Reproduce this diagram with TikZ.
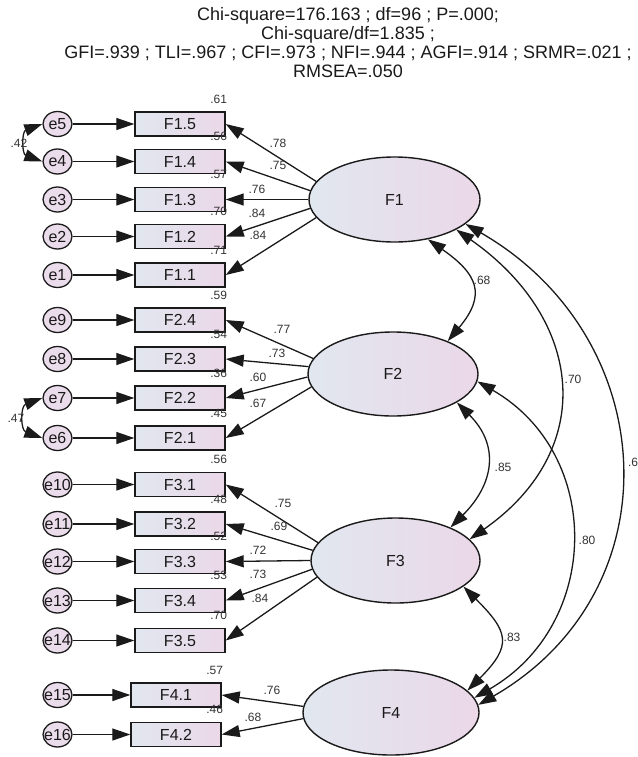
\documentclass[tikz,border=0pt]{standalone}
\usepackage{fontspec}
\setmainfont{Liberation Sans}
\usetikzlibrary{shapes.geometric,arrows.meta}
\definecolor{boxL}{HTML}{E1E7EF}
\definecolor{boxR}{HTML}{EBD8E8}
\definecolor{errF}{HTML}{EBDCEB}
\definecolor{ink}{HTML}{1A1A1A}
\definecolor{txt}{HTML}{333333}
\begin{document}
\begin{tikzpicture}[x=1pt,y=1pt,
  obs/.style={draw=ink, line width=1.4pt, left color=boxL, right color=boxR, minimum width=90pt, minimum height=24pt, inner sep=0pt, text=black!90, font=\fontsize{16}{16}\selectfont},
  lat/.style={ellipse, draw=ink, line width=1.4pt, left color=boxL, right color=boxR, inner sep=0pt, text=black!90, font=\fontsize{16}{16}\selectfont},
  err/.style={ellipse, draw=ink, line width=1.3pt, fill=errF, minimum width=29pt, minimum height=25pt, inner sep=-4pt, text=black!90, font=\fontsize{16}{16}\selectfont},
  num/.style={font=\fontsize{12}{12}\selectfont, text=txt, inner sep=0pt},
  arr/.style={draw=ink, line width=1.3pt, -{Triangle[length=18pt,width=12pt]}},
  dbl/.style={draw=ink, line width=1.3pt, {Triangle[length=18pt,width=12pt]}-{Triangle[length=18pt,width=12pt]}},
]
\useasboundingbox (0,0) rectangle (637,-757);

% title
\node[align=center, text=black!90, font=\fontsize{18}{19}\selectfont] (title) at (348,-43)
 {Chi-square=176.163 ; df=96 ; P=.000;\\
  Chi-square/df=1.835 ;\\
  GFI=.939 ; TLI=.967 ; CFI=.973 ; NFI=.944 ; AGFI=.914 ; SRMR=.021 ;\\
  RMSEA=.050};

% latent factors
\node[lat, minimum width=171pt, minimum height=85pt] (F1) at (394.5,-199.5) {F1};
\node[lat, minimum width=170pt, minimum height=84pt] (F2) at (393,-374) {F2};
\node[lat, minimum width=169pt, minimum height=85pt] (F3) at (395.5,-560.5) {F3};
\node[lat, minimum width=176pt, minimum height=85pt] (F4) at (391,-712.5) {F4};

% observed + errors
\foreach \n/\lab/\y in {15/F1.5/124, 14/F1.4/161.5, 13/F1.3/199.5, 12/F1.2/236.5, 11/F1.1/275,
                        24/F2.4/320, 23/F2.3/359, 22/F2.2/398, 21/F2.1/438,
                        31/F3.1/484.5, 32/F3.2/524, 33/F3.3/561.5, 34/F3.4/600.5, 35/F3.5/640.5}
  \node[obs] (b\n) at (180,-\y) {\lab};
\node[obs] (b41) at (176,-695) {F4.1};
\node[obs] (b42) at (176,-734.5) {F4.2};

\foreach \e/\b in {5/15, 4/14, 3/13, 2/12, 1/11, 9/24, 8/23, 7/22, 6/21, 10/31, 11/32, 12/33, 13/34, 14/35, 15/41, 16/42}
  {\node[err] (e\e) at (57.5,0 |- b\b) {e\e};
   \draw[arr] (e\e) -- (b\b);}

% squared multiple correlations
\foreach \b/\v in {15/.61, 14/.56, 13/.57, 12/.70, 11/.71, 24/.59, 23/.54, 22/.36, 21/.45,
                   31/.56, 32/.48, 33/.52, 34/.53, 35/.70, 41/.57, 42/.46}
  \node[num] at ([xshift=-7pt,yshift=12pt]b\b.north east) {\v};

% loadings
\draw[arr] (F1.167) -- (b15.east);
\draw[arr] (F1.174) -- (b14.east);
\draw[arr] (F1.180) -- (b13.east);
\draw[arr] (F1.186) -- (b12.east);
\draw[arr] (F1.193) -- (b11.east);
\draw[arr] (F2.169) -- (b24.east);
\draw[arr] (F2.175) -- (b23.east);
\draw[arr] (F2.182) -- (b22.east);
\draw[arr] (F2.189) -- (b21.east);
\draw[arr] (F3.167) -- (b31.east);
\draw[arr] (F3.173) -- (b32.east);
\draw[arr] (F3.180) -- (b33.east);
\draw[arr] (F3.186) -- (b34.east);
\draw[arr] (F3.192) -- (b35.east);
\draw[arr] (F4.176) -- (b41.east);
\draw[arr] (F4.184) -- (b42.east);

\node[num] at (278,-143) {.78};
\node[num] at (278,-165) {.75};
\node[num] at (257,-189) {.76};
\node[num] at (257,-213) {.84};
\node[num] at (258,-235) {.84};
\node[num] at (282,-329) {.77};
\node[num] at (277,-353) {.73};
\node[num] at (258,-377) {.60};
\node[num] at (258,-403) {.67};
\node[num] at (283,-503) {.75};
\node[num] at (279,-526) {.69};
\node[num] at (258,-550) {.72};
\node[num] at (258,-574) {.73};
\node[num] at (260,-598) {.84};
\node[num] at (272,-690) {.76};
\node[num] at (253,-717) {.68};

% error covariances
\draw[dbl] (e5.west) to[out=200,in=160,looseness=1.5] (e4.west);
\node[num] at (19,-143) {.42};
\draw[dbl] (e7.west) to[out=200,in=160,looseness=1.5] (e6.west);
\node[num] at (16,-418) {.47};

% factor covariances
\draw[dbl] (F1.-50) to[out=-35,in=50,looseness=1.5] (F2.31);
\node[num] at (482,-280) {.68};
\draw[dbl] (F2.-24) to[out=-45,in=45,looseness=1.25] (F3.31);
\node[num] at (503,-467) {.85};
\draw[dbl] (F3.-21) to[out=-45,in=45,looseness=1.57] (F4.16);
\node[num] at (512,-637) {.83};
\draw[dbl] (F1.-26) to[out=-35,in=35,looseness=1.29] (F3.16);
\node[num] at (573,-379) {.70};
\draw[dbl] (F2.-5) to[out=-30,in=30,looseness=1.18] (F4.10);
\node[num] at (587,-540) {.80};
\draw[dbl] (F1.-19) to[out=-30,in=30,looseness=1.21] (F4.5);
\node[num] at (633,-462) {.6};
\end{tikzpicture}
\end{document}
